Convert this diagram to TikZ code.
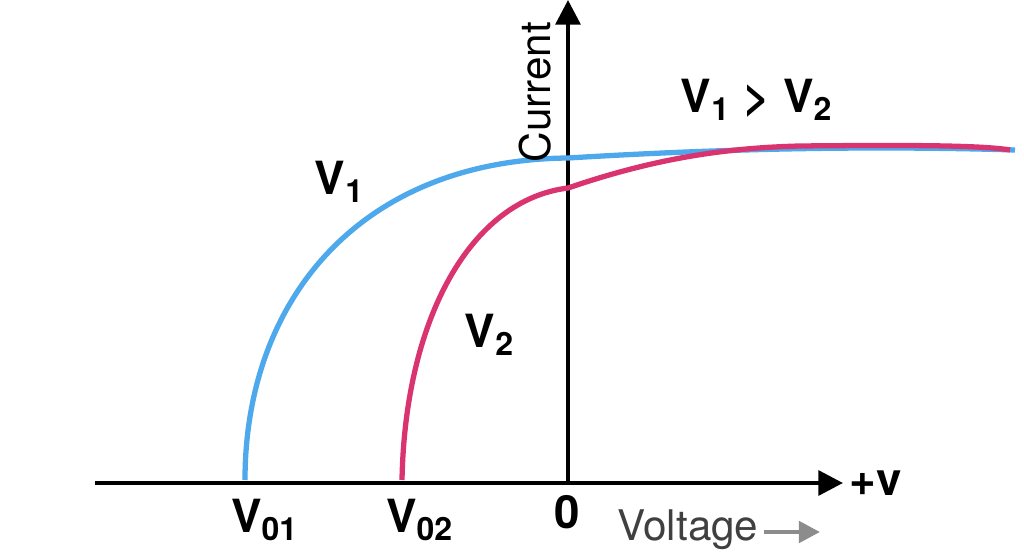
\documentclass[tikz,border=0pt]{standalone}
\usepackage{fontspec}
\setmainfont{TeX Gyre Heros}
\usetikzlibrary{arrows.meta}
\definecolor{cblue}{HTML}{4DA8EC}
\definecolor{cred}{HTML}{D93470}
\definecolor{cgrey}{HTML}{8C8C8C}
\tikzset{
  axis/.style={line width=1.2pt,-{Triangle[length=7pt,width=7pt]}},
  curve/.style={line width=1.5pt},
  lbl/.style={font=\bfseries\fontsize{13}{15}\selectfont,inner sep=0pt},
}
\begin{document}
\begin{tikzpicture}[x=0.01cm,y=-0.01cm]
\useasboundingbox (0,0) rectangle (1024,558);
\coordinate (xs) at (95,483);
\coordinate (xe) at (843,483);
\coordinate (ys) at (568,483);
\coordinate (ye) at (568,0);
\draw[axis] (xs) -- (xe);
\draw[axis] (ys) -- (ye);
\draw[curve,cblue] (245,480) .. controls (245,300) and (360,160) .. (568,158)
  .. controls (700,150) and (850,145) .. (1015,150);
\draw[curve,cred] (402,480) .. controls (405,320) and (470,200) .. (568,188)
  .. controls (650,160) and (720,148) .. (800,146)
  .. controls (900,145) and (980,145) .. (1010,150);
\node[lbl] (v1) at (340,182) {V\textsubscript{1}};
\node[lbl] (v2) at (490,335) {V\textsubscript{2}};
\node[lbl] (cmp) at (757,100) {V\textsubscript{1} > V\textsubscript{2}};
\node[lbl] (v01) at (265,520) {V\textsubscript{01}};
\node[lbl] (v02) at (420,520) {V\textsubscript{02}};
\node[lbl] (zero) at (567,512) {0};
\node[lbl] (pv) at (876,483) {+v};
\node[font=\fontsize{12}{14}\selectfont,rotate=90,inner sep=0pt] (cur) at (535,92) {Current};
\node[font=\fontsize{12}{14}\selectfont,text=black!75,inner sep=0pt] (volt) at (688,530) {Voltage};
\coordinate (va) at (820,532);
\draw[cgrey,line width=1.3pt,-{Triangle[length=6pt,width=6pt]}] (volt.east) ++(5,2) -- (va);
\end{tikzpicture}
\end{document}
